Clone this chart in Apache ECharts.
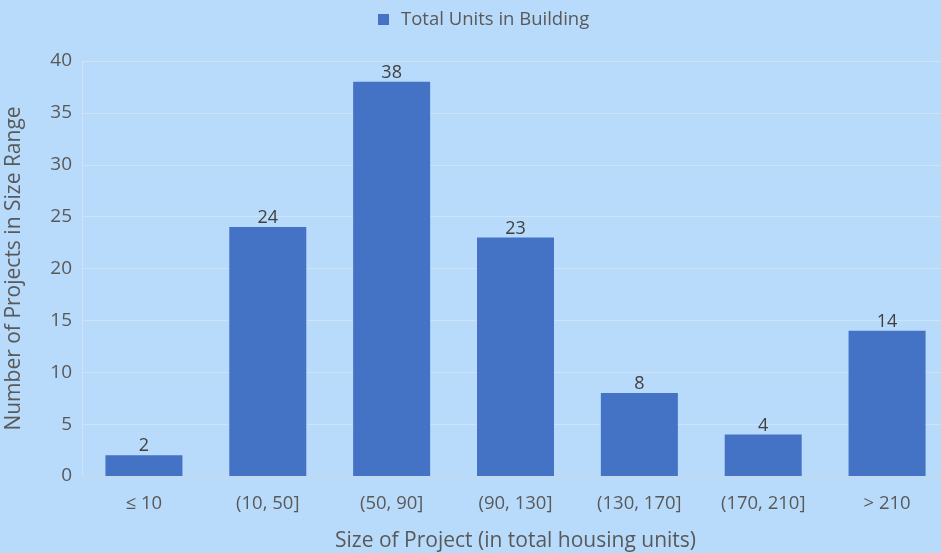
<!DOCTYPE html>
<html>
<head>
<meta charset="utf-8">
<script src="https://cdn.jsdelivr.net/npm/echarts@6/dist/echarts.min.js"></script>
<style>
  html, body { margin: 0; padding: 0; background: #b9dbfb; }
  #chart { width: 941px; height: 553px; }
</style>
</head>
<body>
<div id="chart"></div>
<script>
const sizeRanges = ['≤ 10', '(10, 50]', '(50, 90]', '(90, 130]', '(130, 170]', '(170, 210]', '> 210'];
const projectCounts = [2, 24, 38, 23, 8, 4, 14];
const seriesName = 'Total Units in Building';

const textColor = '#595959';
const font = 'Open Sans';

const chart = echarts.init(document.getElementById('chart'));
chart.setOption({
  backgroundColor: '#b9dbfb',
  textStyle: { fontFamily: font },
  legend: {
    top: 5,
    left: 373,
    icon: 'rect',
    itemWidth: 11,
    itemHeight: 11,
    itemGap: 6,
    textStyle: { fontSize: 18.5, color: textColor, fontFamily: font, padding: [0, 0, 0, 7] },
    data: [seriesName],
  },
  grid: { left: 82, width: 867, top: 61, bottom: 77, outerBoundsMode: 'none' },
  xAxis: {
    type: 'category',
    data: sizeRanges,
    axisTick: { show: false },
    axisLine: { lineStyle: { color: '#c8d6e4', width: 1 } },
    axisLabel: { fontSize: 18.5, color: textColor, margin: 18 },
    name: 'Size of Project (in total housing units)',
    nameLocation: 'middle',
    nameGap: 55,
    nameTextStyle: { fontSize: 21, color: textColor },
  },
  yAxis: {
    type: 'value',
    min: 0,
    max: 40,
    interval: 5,
    axisLine: { show: true, lineStyle: { color: '#cfe2f5' } },
    axisTick: { show: false },
    splitLine: { lineStyle: { color: '#cfe3f6', width: 1 } },
    axisLabel: { fontSize: 19, color: textColor, margin: 10 },
    name: 'Number of Projects in Size Range',
    nameLocation: 'middle',
    nameGap: 57,
    nameTextStyle: { fontSize: 21, color: textColor },
  },
  series: [
    {
      name: seriesName,
      type: 'bar',
      data: projectCounts,
      barWidth: 77,
      itemStyle: { color: '#4472c4' },
      label: {
        show: true,
        position: 'top',
        distance: 0,
        fontSize: 18,
        color: '#404040',
      },
    },
  ],
});
</script>
</body>
</html>
